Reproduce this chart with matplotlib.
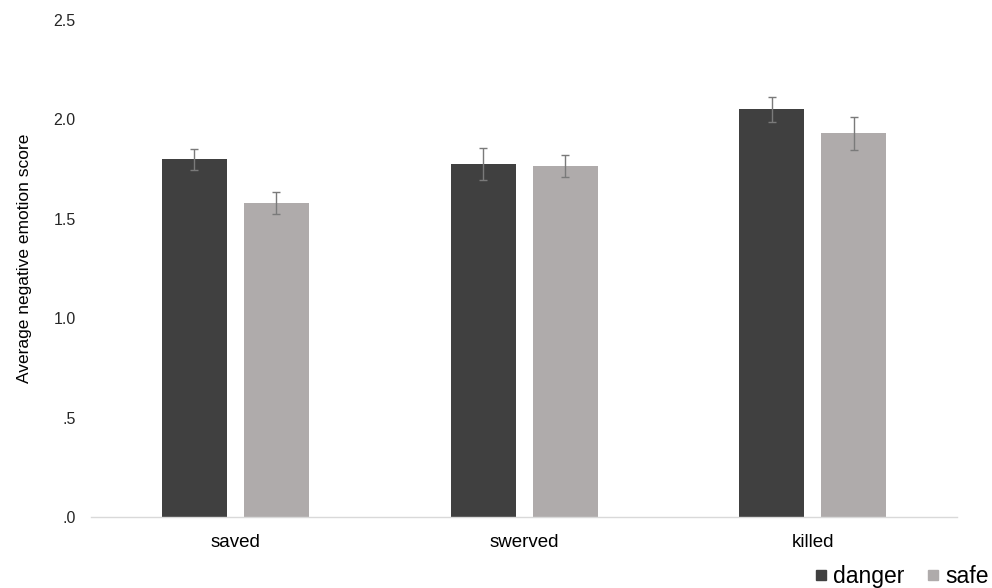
import matplotlib
matplotlib.use("Agg")
import matplotlib.pyplot as plt
import numpy as np
from matplotlib.ticker import FuncFormatter
from matplotlib.lines import Line2D

categories = ["saved", "swerved", "killed"]
series_names = ["danger", "safe"]
danger_vals = [1.80, 1.775, 2.05]
safe_vals = [1.58, 1.765, 1.93]
danger_err = [0.052, 0.082, 0.065]
safe_err = [0.055, 0.055, 0.084]
yticks = [0.0, 0.5, 1.0, 1.5, 2.0, 2.5]

plt.rcParams['font.family'] = ['Liberation Sans', 'DejaVu Sans']

fig = plt.figure(figsize=(9.92, 5.88), dpi=100)
ax = fig.add_axes([0.0917, 0.1207, 0.8733, 0.8453])

x = np.arange(len(categories))
w = 0.225
off = 0.142
c_d = "#404040"
c_s = "#AFABAB"
ekw = dict(ecolor="#7a7a7a", elinewidth=1.0, capsize=3, capthick=1.0)
ax.bar(x - off, danger_vals, w, color=c_d, yerr=danger_err, error_kw=ekw, label="danger")
ax.bar(x + off, safe_vals, w, color=c_s, yerr=safe_err, error_kw=ekw, label="safe")

ax.set_xlim(-0.5, len(categories) - 0.5)
ax.set_ylim(0, 2.5)
ax.set_yticks(yticks)
def fmt(v, pos):
    s = f"{v:.1f}"
    if s.startswith("0"):
        s = s[1:]
    return s
ax.yaxis.set_major_formatter(FuncFormatter(fmt))
ax.set_xticks(x)
ax.set_xticklabels(categories, fontsize=13.5)
ax.tick_params(axis='y', length=0, pad=11, labelsize=11.5, labelcolor="#262626")
ax.tick_params(axis='x', length=0, pad=12.5, labelcolor="#000000")
for s in ["top", "right", "left"]:
    ax.spines[s].set_visible(False)
ax.spines["bottom"].set_color("#d9d9d9")
ax.spines["bottom"].set_linewidth(1.0)
ax.set_ylabel("Average negative emotion score", fontsize=12.5)
ax.yaxis.set_label_coords(-0.068, 0.521)

handles = [Line2D([], [], marker='s', linestyle='none', color=c_d, markersize=7),
           Line2D([], [], marker='s', linestyle='none', color=c_s, markersize=7)]
fig.legend(handles, series_names, loc='lower right', bbox_to_anchor=(1.001, -0.008),
           frameon=False, ncol=2, fontsize=16.5, handlelength=0.45, handletextpad=0.3,
           columnspacing=1.0, borderaxespad=0.0, borderpad=0.2)

fig.savefig("out.png", dpi=100)
